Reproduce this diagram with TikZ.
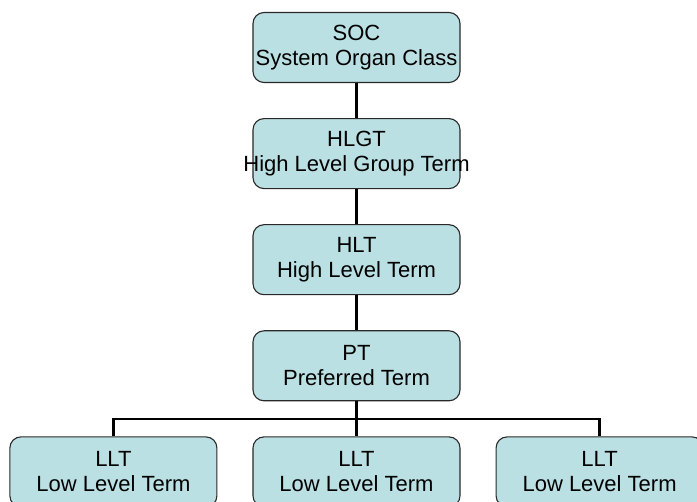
\documentclass[tikz,border=0pt]{standalone}
\usepackage{fontspec}
\setmainfont{Liberation Sans}
\usepackage{xcolor}
\definecolor{termfill}{RGB}{187,224,227}
\definecolor{termline}{RGB}{40,40,40}
\usetikzlibrary{positioning,calc}
\tikzset{
    termnode/.style = {rectangle, draw=termline, fill=termfill, line width=1.1pt,
                       minimum width=207pt, minimum height=70pt, align=center,
                       rounded corners=11pt, inner sep=0pt,
                       font=\fontsize{22}{25}\selectfont},
    link/.style     = {line width=2.6pt, draw=black}
}
\begin{document}
\begin{tikzpicture}[
    x=1pt, y=1pt,
    node distance = 35pt and 35pt
]
\useasboundingbox (0,0) rectangle (697,-502);

% --- MedDRA hierarchy, top to bottom ---
\node[termnode] (soc) at (356.5,-47.5) {SOC\\System Organ Class};
\node[termnode, below=of soc]  (hlgt) {HLGT\\\makebox[0pt]{High Level Group Term}};
\node[termnode, below=of hlgt] (hlt)  {HLT\\High Level Term};
\node[termnode, below=of hlt]  (pt)   {PT\\Preferred Term};

% --- Lowest level ---
\node[termnode, below=of pt]     (lltB) {LLT\\Low Level Term};
\node[termnode, left=of lltB]    (lltA) {LLT\\Low Level Term};
\node[termnode, right=of lltB]   (lltC) {LLT\\Low Level Term};

% --- Links ---
\foreach \src/\dst in {soc/hlgt, hlgt/hlt, hlt/pt, pt/lltB}
   \draw[link] (\src) -- (\dst);

\coordinate (fork) at ($(pt.south)!0.5!(lltB.north)$);
\draw[link] (lltA.north) |- (fork) -| (lltC.north);

\end{tikzpicture}
\end{document}
